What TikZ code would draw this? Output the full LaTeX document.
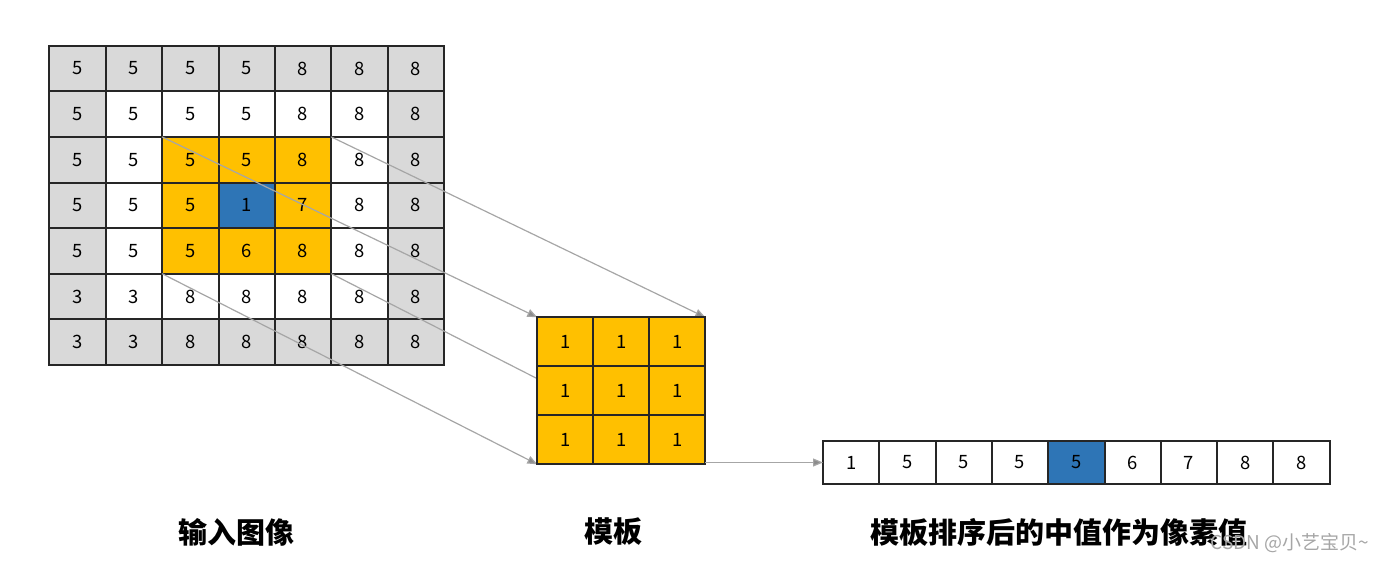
\documentclass[tikz,border=0pt]{standalone}
\usepackage{fontspec}
\newfontfamily\cjkfont{Noto Sans CJK SC}
\usepackage{tikz}
\usetikzlibrary{arrows.meta}
\definecolor{cellgray}{HTML}{D9D9D9}
\definecolor{cellorange}{HTML}{FFC000}
\definecolor{cellblue}{HTML}{2E75B6}
\definecolor{linkgray}{HTML}{A6A6A6}
\pgfdeclarelayer{gridlayer}
\pgfsetlayers{gridlayer,main}

\begin{document}
\begin{tikzpicture}[x=0.5pt, y=-0.5pt, font=\cjkfont\fontsize{9.2}{10}\selectfont,
    cell/.style={draw=black!85, line width=1pt, inner sep=0pt, outer sep=0pt,
                 minimum width=28.2pt, minimum height=22.8pt},
    link/.style={draw=linkgray, line width=0.6pt, -{Triangle[length=5pt, width=4pt, fill=black!45]}},
    caption/.style={font=\cjkfont\bfseries\fontsize{14.5}{16}\selectfont}]
  \useasboundingbox (0,0) rectangle (1382,562);

  % input image
  \begin{pgfonlayer}{gridlayer}
  \foreach \vals [count=\r from 0] in {{5,5,5,5,8,8,8},{5,5,5,5,8,8,8},{5,5,5,5,8,8,8},
      {5,5,5,1,7,8,8},{5,5,5,6,8,8,8},{3,3,8,8,8,8,8},{3,3,8,8,8,8,8}}
    \foreach \v [count=\c from 0] in \vals {
      \pgfmathtruncatemacro\isedge{(\r==0||\r==6||\c==0||\c==6)}
      \pgfmathtruncatemacro\inwin{(\r>1&&\r<5&&\c>1&&\c<5)}
      \ifnum\isedge=1 \def\cfill{cellgray}\else
        \ifnum\inwin=1 \def\cfill{cellorange}\else \def\cfill{white}\fi\fi
      \ifnum\r=3 \ifnum\c=3 \def\cfill{cellblue}\fi\fi
      \node[cell, fill=\cfill] (g-\r-\c) at ({49.3+56.4*(\c+.5)}, {45.7+45.6*(\r+.5)}) {\v};
    }
  \end{pgfonlayer}

  % template
  \foreach \r in {0,1,2}
    \foreach \c in {0,1,2}
      \node[cell, fill=cellorange, minimum width=28pt, minimum height=24.5pt]
           (t-\r-\c) at ({537.3+56*(\c+.5)}, {317.3+49*(\r+.5)}) {1};

  % sorted values
  \foreach \v [count=\i from 0] in {1,5,5,5,5,6,7,8,8} {
    \ifnum\i=4 \def\cfill{cellblue}\else \def\cfill{white}\fi
    \node[cell, fill=\cfill, minimum width=28.15pt, minimum height=21.5pt]
         (s-\i) at ({823+56.3*(\i+.5)}, 462.5) {\v};
  }

  \begin{pgfonlayer}{gridlayer}
  \draw[link] (g-2-2.north west) -- (t-0-0.north west);
  \draw[link] (g-2-4.north east) -- (t-0-2.north east);
  \draw[link] (g-4-2.south west) -- (t-2-0.south west);
  \draw[link] (g-4-4.south east) -- (t-2-2.south east);
  \end{pgfonlayer}
  \draw[link] (t-2-2.east |- s-0.west) -- (s-0.west);

  \node[caption] (cap-in) at (236,532) {输入图像};
  \node[caption] (cap-tmpl) at (613,532) {模板};
  \node[caption] (cap-out) at (1059,532) {模板排序后的中值作为像素值};
  \node[font=\cjkfont\fontsize{9.5}{10}\selectfont, text=black!35] (mark) at (1290,543)
       {CSDN @小艺宝贝\textasciitilde};
\end{tikzpicture}
\end{document}
